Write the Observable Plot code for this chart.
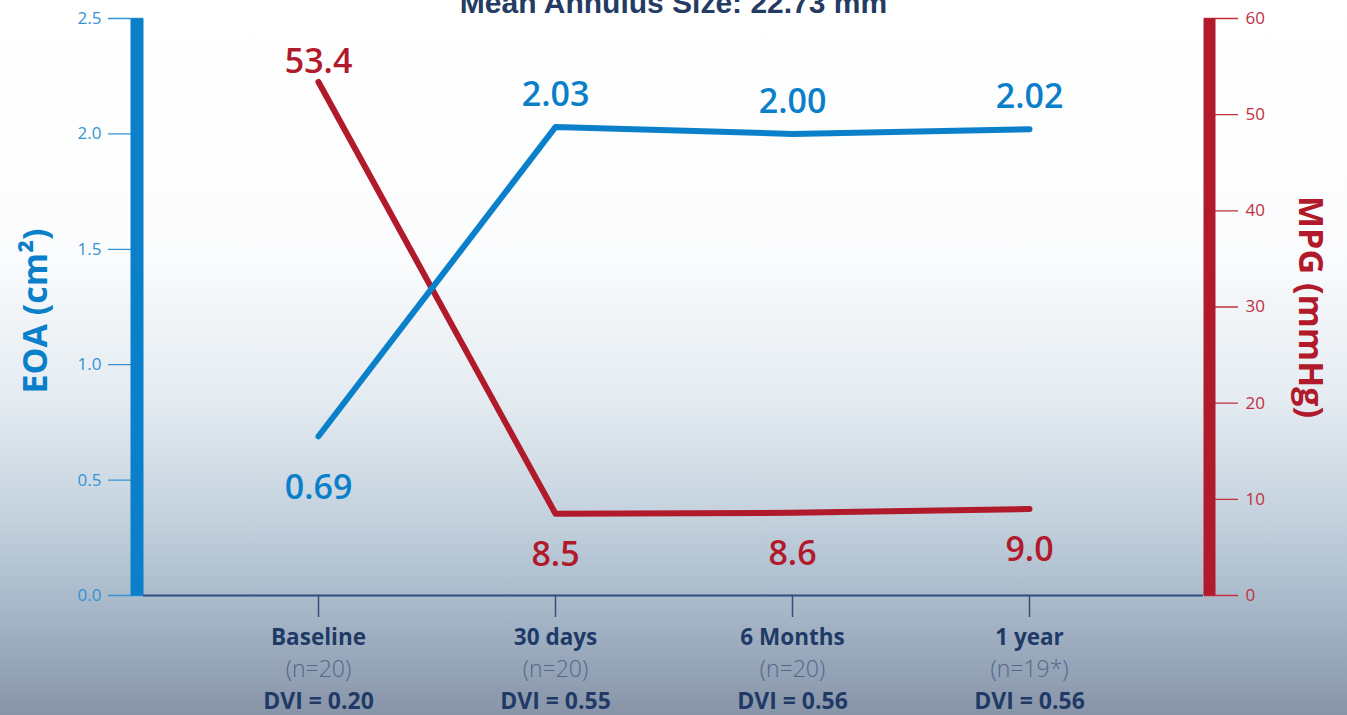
<!DOCTYPE html>
<html>
<head>
<meta charset="utf-8">
<script src="https://cdn.jsdelivr.net/npm/d3@7"></script>
<script src="https://cdn.jsdelivr.net/npm/@observablehq/plot@0.6"></script>
<style>
  html, body { margin: 0; padding: 0; }
  body {
    width: 1347px; height: 715px; overflow: hidden;
    background: linear-gradient(to bottom, #ffffff 0px, #fbfcfd 250px, #e4ebf1 400px, #c3d1dd 520px, #a3b4c6 620px, #8894a8 715px);
    font-family: "Open Sans", "Noto Sans", sans-serif;
  }
  #chart svg { display: block; background: transparent; overflow: visible; }
</style>
</head>
<body>
<div id="chart"></div>
<script>
const title = "Mean Annulus Size: 22.73 mm";
const categories = ["Baseline", "30 days", "6 Months", "1 year"];
const nLabels = ["(n=20)", "(n=20)", "(n=20)", "(n=19*)"];
const dviLabels = ["DVI = 0.20", "DVI = 0.55", "DVI = 0.56", "DVI = 0.56"];
const eoa = [0.69, 2.03, 2.00, 2.02];
const mpg = [53.4, 8.5, 8.6, 9.0];
const eoaTicks = [0, 0.5, 1.0, 1.5, 2.0, 2.5];
const mpgTicks = [0, 10, 20, 30, 40, 50, 60];
const eoaLabelAbove = [false, true, true, true];
const mpgLabelAbove = [true, false, false, false];

const EOA_MAX = 2.5, MPG_MAX = 60;
const toEoa = v => v * EOA_MAX / MPG_MAX;

const BLUE = "#0a7fca", RED = "#b01a2b", NAVY = "#1f3a66";

const rows = categories.map((c, i) => ({
  cat: c, n: nLabels[i], dvi: dviLabels[i],
  eoa: eoa[i], mpg: mpg[i], eoaAbove: eoaLabelAbove[i], mpgAbove: mpgLabelAbove[i]
}));

const chart = Plot.plot({
  width: 1347,
  height: 715,
  marginLeft: 143,
  marginRight: 144,
  marginTop: 18,
  marginBottom: 120,
  style: { fontFamily: "'Open Sans', 'Noto Sans', sans-serif", background: "transparent", overflow: "visible" },
  x: { type: "point", domain: categories, padding: 0.735, axis: null },
  y: { domain: [0, EOA_MAX], axis: null },
  marks: [
    // title (cut off at top like the reference)
    Plot.text([title], { frameAnchor: "top", dy: -6, lineAnchor: "bottom", text: d => d,
      fontFamily: "'Liberation Sans', Arial, sans-serif", fontWeight: "bold", fontSize: 30, fill: "#243c63" }),
    // left axis
    Plot.axisY(eoaTicks, { anchor: "left", tickSize: 35, tickPadding: 7, fontSize: 17,
      tickFormat: d => d.toFixed(1), color: "#3593d4", strokeWidth: 1.3, label: null }),
    // right axis
    Plot.axisY(mpgTicks, { anchor: "right", y: d => toEoa(d), tickSize: 34, tickPadding: 8, fontSize: 17,
      tickFormat: d => String(d), color: "#c0303f", strokeWidth: 1.3, label: null }),
    // x ticks
    Plot.axisX({ tickSize: 22, tickFormat: () => "", stroke: "#34507a", strokeWidth: 1.5, label: null }),
    // baseline rule
    Plot.ruleY([0], { stroke: "#2e4e7c", strokeWidth: 2 }),
    // thick axis bars
    Plot.frame({ anchor: "left", stroke: BLUE, strokeWidth: 13, dx: -6.5, strokeLinecap: "butt" }),
    Plot.frame({ anchor: "right", stroke: RED, strokeWidth: 12, dx: 6, strokeLinecap: "butt" }),
    // axis titles
    Plot.text(["EOA (cm²)"], { frameAnchor: "left", textAnchor: "middle", dx: -107, dy: 4, rotate: -90, text: d => d,
      fill: BLUE, fontSize: 34, fontWeight: "bold" }),
    Plot.text(["MPG (mmHg)"], { frameAnchor: "right", textAnchor: "middle", dx: 106, dy: 0, rotate: 90, text: d => d,
      fill: RED, fontSize: 34, fontWeight: "bold" }),
    // lines
    Plot.line(rows, { x: "cat", y: d => toEoa(d.mpg), stroke: RED, strokeWidth: 6, strokeLinecap: "round", strokeLinejoin: "round" }),
    Plot.line(rows, { x: "cat", y: "eoa", stroke: BLUE, strokeWidth: 6, strokeLinecap: "round", strokeLinejoin: "round" }),
    // value labels
    Plot.text(rows.filter(d => d.eoaAbove), { x: "cat", y: "eoa", text: d => d.eoa.toFixed(2), dy: -32, fill: BLUE, fontSize: 34, fontWeight: 600 }),
    Plot.text(rows.filter(d => !d.eoaAbove), { x: "cat", y: "eoa", text: d => d.eoa.toFixed(2), dy: 52, fill: BLUE, fontSize: 34, fontWeight: 600 }),
    Plot.text(rows.filter(d => d.mpgAbove), { x: "cat", y: d => toEoa(d.mpg), text: d => d.mpg.toFixed(1), dy: -20, fill: RED, fontSize: 34, fontWeight: 600 }),
    Plot.text(rows.filter(d => !d.mpgAbove), { x: "cat", y: d => toEoa(d.mpg), text: d => d.mpg.toFixed(1), dy: 41, fill: RED, fontSize: 34, fontWeight: 600 }),
    // category labels
    Plot.text(rows, { x: "cat", frameAnchor: "bottom", dy: 49, text: "cat", fill: NAVY, fontSize: 22.5, fontWeight: "bold" }),
    Plot.text(rows, { x: "cat", frameAnchor: "bottom", dy: 81, text: "n", fill: "#52688a", fontSize: 23, fontWeight: 300 }),
    Plot.text(rows, { x: "cat", frameAnchor: "bottom", dy: 113, text: "dvi", fill: NAVY, fontSize: 23, fontWeight: "bold" })
  ]
});
document.getElementById("chart").appendChild(chart);
</script>
</body>
</html>
